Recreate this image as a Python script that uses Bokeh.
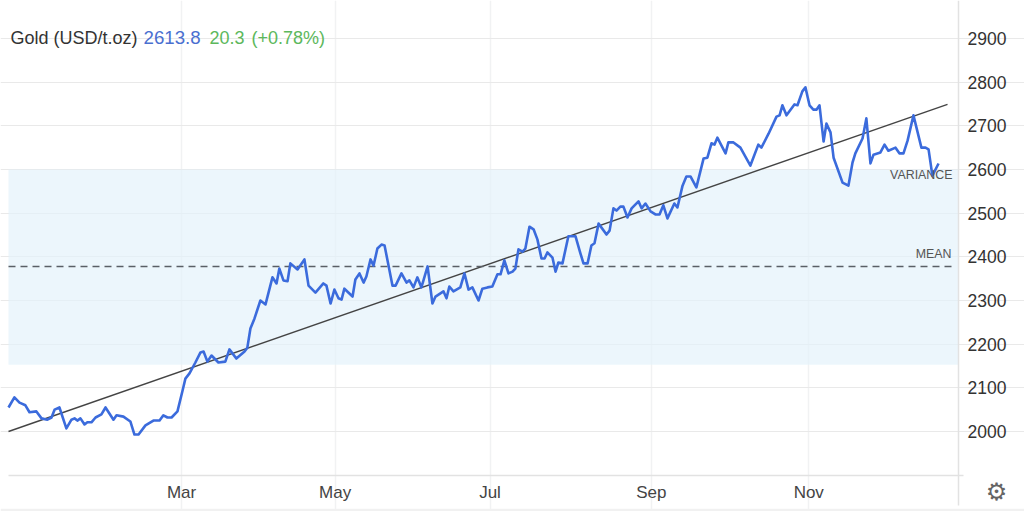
from bokeh.plotting import figure
from bokeh.models import Range1d, FixedTicker, BoxAnnotation, Label
from bokeh.embed import file_html
from bokeh.resources import INLINE

days = [-7.6,-5.3,-3.3,-1.0,0.6,3.3,5.3,7.6,9.2,10.4,12.3,15.0,17.0,18.2,19.3,20.5,22.1,23.2,24.8,26.4,28.7,30.3,33.4,34.6,37.3,40.0,41.6,43.2,45.9,49.0,51.4,52.9,54.5,56.1,58.4,60.4,61.5,63.1,65.4,67.4,68.6,70.1,71.7,74.4,77.1,78.7,81.4,84.6,85.7,86.9,88.5,90.8,92.8,95.5,97.1,98.2,99.8,101.4,102.5,105.3,108.0,109.6,112.3,115.4,116.6,118.2,119.7,121.3,122.5,123.6,126.8,127.9,129.5,131.1,132.2,133.8,135.0,136.5,138.1,139.3,142.4,143.6,145.9,147.9,149.0,150.6,152.1,153.7,156.1,158.0,159.2,162.3,163.5,164.6,166.2,168.9,170.5,172.1,173.6,176.0,177.5,179.5,181.4,183.4,184.6,186.1,187.7,189.3,190.4,191.6,193.2,194.3,195.9,197.5,199.0,200.6,201.8,202.9,204.9,206.1,207.2,208.8,211.1,213.9,215.8,217.0,218.6,220.1,221.3,222.9,226.0,227.2,228.7,229.9,231.4,232.6,234.2,235.8,238.5,239.7,241.2,243.2,245.1,246.7,248.2,249.8,252.5,253.7,255.7,257.2,258.8,261.1,263.9,265.4,267.0,268.2,269.3,272.5,273.6,275.6,278.3,282.2,285.3,286.5,289.3,292.4,293.6,294.7,296.3,299.4,300.6,302.5,303.7,305.3,306.8,308.0,309.2,310.8,311.9,313.5,314.7,318.2,320.5,322.1,323.2,326.0,327.5,329.1,330.3,333.0,334.6,336.1,338.9,340.4,342.0,343.6,345.9,349.0,350.6,351.8,353.3,355.7]
prices = [2055,2078,2066,2060,2044,2046,2030,2027,2032,2050,2055,2007,2027,2030,2025,2030,2016,2021,2021,2032,2039,2055,2027,2037,2034,2023,1993,1993,2014,2025,2025,2037,2032,2032,2046,2094,2121,2133,2158,2181,2183,2160,2174,2158,2160,2188,2167,2183,2192,2236,2259,2300,2291,2353,2339,2373,2346,2344,2385,2371,2394,2334,2318,2339,2334,2293,2325,2305,2302,2327,2309,2348,2362,2341,2355,2394,2380,2419,2428,2426,2334,2334,2362,2341,2346,2330,2353,2330,2378,2293,2309,2321,2305,2332,2321,2330,2362,2325,2330,2300,2327,2330,2332,2360,2360,2392,2362,2366,2373,2417,2412,2419,2469,2463,2440,2396,2396,2410,2398,2366,2387,2385,2447,2447,2408,2385,2385,2426,2431,2476,2451,2460,2511,2506,2515,2515,2490,2511,2527,2511,2522,2504,2497,2497,2518,2488,2522,2513,2563,2584,2584,2559,2625,2627,2660,2657,2673,2637,2662,2662,2650,2609,2657,2650,2682,2721,2724,2747,2724,2749,2747,2779,2788,2747,2737,2737,2747,2664,2705,2685,2627,2570,2563,2616,2637,2671,2717,2614,2634,2639,2657,2643,2650,2637,2637,2666,2724,2650,2650,2646,2586,2613.8]

trend_days = [-7.6, 359.2]
trend_prices = [2000, 2749]
mean_days = [-7.6, 362]
mean_prices = [2378, 2378]
variance_low = 2153
variance_high = 2600
y_ticks = [2000, 2100, 2200, 2300, 2400, 2500, 2600, 2700, 2800, 2900]
x_ticks = [60, 120, 180.5, 243.5, 305]
x_labels = ["Mar", "May", "Jul", "Sep", "Nov"]

# plot area limits, in data units
DAY_MIN, DAY_MAX = -7.6, 363.5
PRICE_BASE, PRICE_TOP = 1899.2, 2987
# the frame fills the page so the axes and the settings icon can sit inside it
VIEW_X = (-10.725, 389.275)
VIEW_Y = (1816.76, 2987)

FONT = "Liberation Sans"
GRID = "#e9e9e9"

p = figure(width=1024, height=511, output_backend="svg", toolbar_location=None,
           x_range=Range1d(*VIEW_X), y_range=Range1d(*VIEW_Y),
           x_axis_location="below", y_axis_location="right",
           min_border_left=0, min_border_top=0, min_border_right=0, min_border_bottom=0)
p.outline_line_color = None
p.background_fill_color = "white"
p.border_fill_color = "white"

p.xaxis.ticker = FixedTicker(ticks=x_ticks)
p.xaxis.major_label_overrides = dict(zip(x_ticks, x_labels))
p.yaxis.ticker = FixedTicker(ticks=y_ticks)
p.xaxis.fixed_location = PRICE_BASE
p.yaxis.fixed_location = DAY_MAX
p.xaxis.bounds = (DAY_MIN, DAY_MAX + 2)
p.yaxis.bounds = (1830.5, PRICE_TOP)
for ax in (p.xaxis[0], p.yaxis[0]):
    ax.major_tick_line_color = None
    ax.minor_tick_line_color = None
    ax.axis_line_color = "#e2e2e2"
    ax.axis_line_width = 1.5
    ax.major_label_text_font = FONT
    ax.major_label_text_color = "#333333"
    ax.major_label_text_font_size = "17.5px"
p.xaxis.major_label_text_font_size = "17px"
p.xaxis.major_label_text_color = "#444444"
p.xaxis.major_label_standoff = 1
p.yaxis.major_label_standoff = 3

p.xgrid.ticker = FixedTicker(ticks=x_ticks)
p.ygrid.ticker = FixedTicker(ticks=y_ticks)
p.xgrid.bounds = (PRICE_BASE, PRICE_TOP)
p.ygrid.bounds = (DAY_MIN, DAY_MAX)
p.xgrid.grid_line_color = "#f1f2f3"
p.ygrid.grid_line_color = GRID
p.xgrid.grid_line_width = 1.5
p.ygrid.grid_line_width = 1.2

p.add_layout(BoxAnnotation(left=DAY_MIN, right=DAY_MAX, bottom=variance_low, top=variance_high,
                           fill_color="#e3f1fb", fill_alpha=0.68, line_color=None, level="underlay"))
p.add_layout(BoxAnnotation(bottom=VIEW_Y[0], top=1823, fill_color="#f1f1f1", fill_alpha=1,
                           line_color=None, level="underlay"))

p.line(trend_days, trend_prices, line_color="#444444", line_width=1.4)
p.line(mean_days, mean_prices, line_color="#5a5f66", line_dash="7 5", line_width=1.5)
p.line(days, prices, line_color="#3b6bdc", line_width=2.6, line_join="round")

def lab(text, x, y, color, size, align="left", font=FONT):
    p.add_layout(Label(x=x, y=y, x_units="screen", y_units="screen", text=text, text_color=color,
                       text_font=font, text_font_size=size, text_align=align,
                       text_baseline="alphabetic"))

lab("Gold (USD/t.oz)", 10, 474, "#333333", "18px")
lab("2613.8", 143, 474, "#4a6fd0", "18.7px")
lab("20.3", 209, 474, "#5cb85c", "18px")
lab("(+0.78%)", 251, 474, "#5cb85c", "18px")
lab("VARIANCE", 952, 337, "#555555", "12.4px", "right")
lab("MEAN", 951, 258, "#555555", "12.4px", "right")
lab("\u2699", 996, 20, "#666666", "24px", "center", "DejaVu Sans")

open("out.html", "w").write(file_html(p, INLINE))
